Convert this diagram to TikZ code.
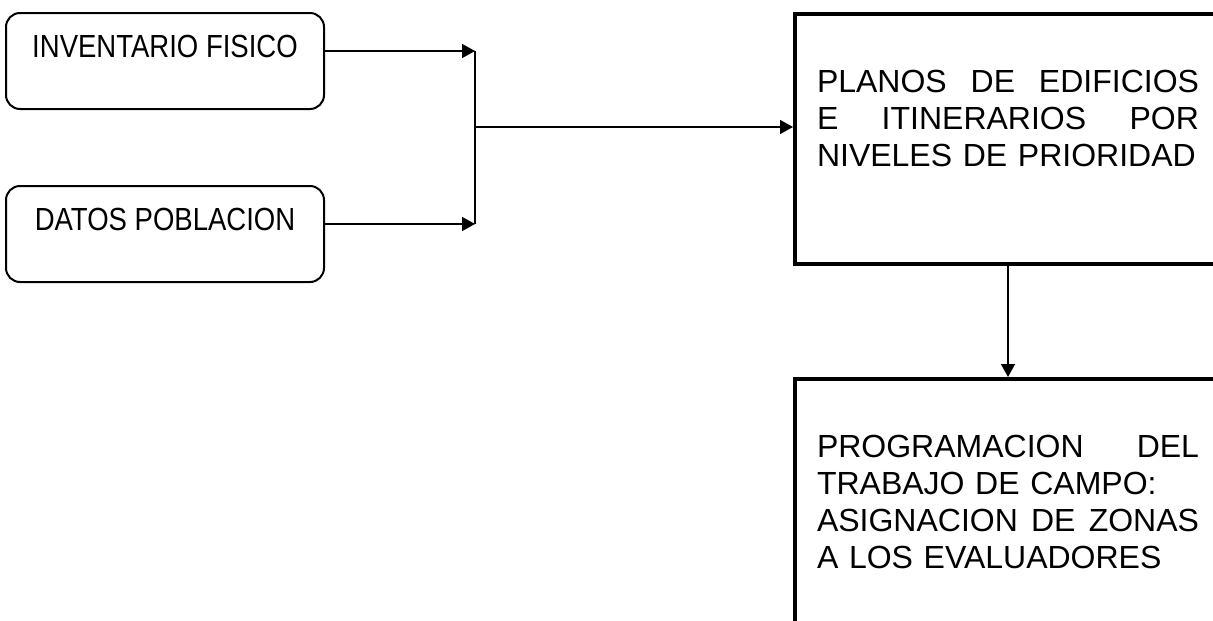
\documentclass[tikz,border=0pt]{standalone}
\usepackage{fontspec}
\setmainfont{Liberation Sans}
\newfontfamily\narrowfont[FakeStretch=0.86]{Liberation Sans}
\usetikzlibrary{arrows.meta}
\hyphenpenalty=10000
\tikzset{
  inbox/.style={draw, line width=2pt, rounded corners=14pt, minimum width=318pt, inner sep=0pt, text height=44pt, text depth=52pt, font=\narrowfont\fontsize{32}{37}\selectfont},
  procbox/.style={draw, line width=4pt, text width=382pt, inner xsep=22pt, inner ysep=0pt, text height=78pt, align=left, font=\fontsize{32}{37}\selectfont},
  arr/.style={line width=1.5pt, -{Triangle[length=13pt,width=14pt]}},
}
\begin{document}
\begin{tikzpicture}[x=1pt,y=1pt,yscale=-1]
\useasboundingbox (0,0) rectangle (1213,621);

%Shape: Rounded boxes
\node[inbox, anchor=north] (inv) at (165,12) {INVENTARIO FISICO};
\node[inbox, anchor=north] (pob) at (165,185) {DATOS POBLACION};

%Shape: Process boxes
\node[procbox, anchor=north west, text depth=172pt] (plan) at (793,12)
  {PLANOS\hfill DE\hfill EDIFICIOS\\ E\hfill ITINERARIOS\hfill POR\\ NIVELES DE PRIORIDAD};
\node[procbox, anchor=north west, text depth=185pt] (prog) at (793,377)
  {PROGRAMACION\hfill DEL\\ TRABAJO DE CAMPO:\\ ASIGNACION\hfill DE\hfill ZONAS\\ A LOS EVALUADORES};

%Straight Lines
\coordinate (in1) at (475,51);
\coordinate (in2) at (475,224);
\coordinate (jn) at (475,127);
\draw[arr] (inv.east |- in1) -- (in1);
\draw[arr] (pob.east |- in2) -- (in2);
\draw[line width=1.5pt] (in1) -- (in2);
\draw[arr] (jn) -- (plan.west |- jn);
\draw[arr] (plan.south) -- (prog.north);

\end{tikzpicture}
\end{document}
